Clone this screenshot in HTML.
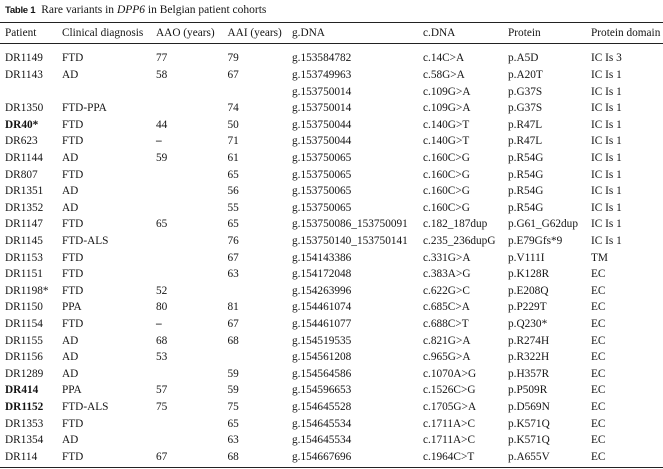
<!DOCTYPE html>
<html>
<head>
<meta charset="utf-8">
<style>
html,body{margin:0;padding:0;background:#fff;}
body{width:663px;height:469px;position:relative;overflow:hidden;font-family:"Liberation Serif",serif;font-size:11.3px;color:#141414;}
.t{position:absolute;white-space:nowrap;height:16px;line-height:16px;}
.rule{position:absolute;left:0;width:663px;background:#222;}
b{font-weight:bold;}
.title{position:absolute;left:5px;top:2px;height:16px;line-height:16px;white-space:nowrap;font-size:11.5px;}
.title .lab{font-family:"Liberation Sans",sans-serif;font-weight:bold;font-size:9.6px;letter-spacing:-0.3px;margin-right:6px;}
</style>
</head>
<body>
<div class="title"><span class="lab">Table 1</span>Rare variants in <i>DPP6</i> in Belgian patient cohorts</div>
<div class="rule" style="top:22px;height:1.4px;"></div>
<div class="rule" style="top:43px;height:1px;"></div>
<div class="rule" style="top:466.5px;height:1.4px;"></div>

<div id="tbl"></div>
<script>
var cols=[5,62,156,227.5,292,423,508,591];
var header=["Patient","Clinical diagnosis","AAO (years)","AAI (years)","g.DNA","c.DNA","Protein","Protein domain"];
var rows=[
["DR1149","FTD","77","79","g.153584782","c.14C>A","p.A5D","IC Is 3"],
["DR1143","AD","58","67","g.153749963","c.58G>A","p.A20T","IC Is 1"],
["","","","","g.153750014","c.109G>A","p.G37S","IC Is 1"],
["DR1350","FTD-PPA","","74","g.153750014","c.109G>A","p.G37S","IC Is 1"],
["<b>DR40*</b>","FTD","44","50","g.153750044","c.140G>T","p.R47L","IC Is 1"],
["DR623","FTD","<b>–</b>","71","g.153750044","c.140G>T","p.R47L","IC Is 1"],
["DR1144","AD","59","61","g.153750065","c.160C>G","p.R54G","IC Is 1"],
["DR807","FTD","","65","g.153750065","c.160C>G","p.R54G","IC Is 1"],
["DR1351","AD","","56","g.153750065","c.160C>G","p.R54G","IC Is 1"],
["DR1352","AD","","55","g.153750065","c.160C>G","p.R54G","IC Is 1"],
["DR1147","FTD","65","65","g.153750086_153750091","c.182_187dup","p.G61_G62dup","IC Is 1"],
["DR1145","FTD-ALS","","76","g.153750140_153750141","c.235_236dupG","p.E79Gfs*9","IC Is 1"],
["DR1153","FTD","","67","g.154143386","c.331G>A","p.V111I","TM"],
["DR1151","FTD","","63","g.154172048","c.383A>G","p.K128R","EC"],
["DR1198*","FTD","52","","g.154263996","c.622G>C","p.E208Q","EC"],
["DR1150","PPA","80","81","g.154461074","c.685C>A","p.P229T","EC"],
["DR1154","FTD","<b>–</b>","67","g.154461077","c.688C>T","p.Q230*","EC"],
["DR1155","AD","68","68","g.154519535","c.821G>A","p.R274H","EC"],
["DR1156","AD","53","","g.154561208","c.965G>A","p.R322H","EC"],
["DR1289","AD","","59","g.154564586","c.1070A>G","p.H357R","EC"],
["<b>DR414</b>","PPA","57","59","g.154596653","c.1526C>G","p.P509R","EC"],
["<b>DR1152</b>","FTD-ALS","75","75","g.154645528","c.1705G>A","p.D569N","EC"],
["DR1353","FTD","","65","g.154645534","c.1711A>C","p.K571Q","EC"],
["DR1354","AD","","63","g.154645534","c.1711A>C","p.K571Q","EC"],
["DR114","FTD","67","68","g.154667696","c.1964C>T","p.A655V","EC"]
];
function esc(s){return s.replace(/>/g,"&gt;");}
var h="";
for(var c=0;c<8;c++){h+='<div class="t" style="left:'+cols[c]+'px;top:'+(33-8)+'px">'+header[c]+'</div>';}
for(var r=0;r<rows.length;r++){
  var yc=58.3+16.6*r;
  for(var c=0;c<8;c++){
    var v=rows[r][c]; if(!v) continue;
    if(v.indexOf("<b>")!==0) v=esc(v);
    h+='<div class="t" style="left:'+cols[c]+'px;top:'+(yc-8).toFixed(1)+'px">'+v+'</div>';
  }
}
document.getElementById("tbl").innerHTML=h;
</script>
</body>
</html>
